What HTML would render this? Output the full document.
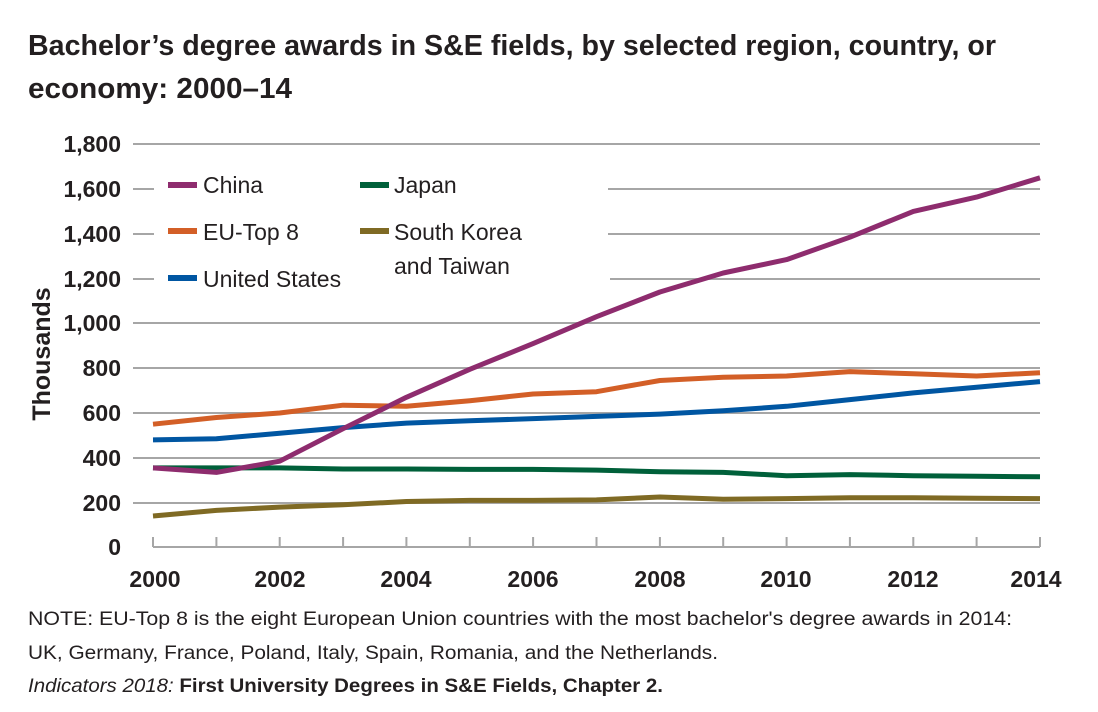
<!DOCTYPE html>
<html><head><meta charset="utf-8"><style>
html,body{margin:0;padding:0;background:#fff;}
svg{display:block;font-family:"Liberation Sans",sans-serif;}
</style></head><body>
<svg width="1098" height="712" viewBox="0 0 1098 712">
<rect width="1098" height="712" fill="#fff"/>
<g font-weight="bold" font-size="29" fill="#231f20">
<text x="28" y="55" textLength="968" lengthAdjust="spacingAndGlyphs">Bachelor’s degree awards in S&amp;E fields, by selected region, country, or</text>
<text x="28" y="98" textLength="264" lengthAdjust="spacingAndGlyphs">economy: 2000–14</text>
</g>
<g stroke="#a6a6a6" stroke-width="2">
<line x1="133" y1="144" x2="1040" y2="144"/>
<line x1="133" y1="189" x2="154" y2="189"/><line x1="608" y1="189" x2="1040" y2="189"/>
<line x1="133" y1="234" x2="154" y2="234"/><line x1="608" y1="234" x2="1040" y2="234"/>
<line x1="133" y1="279" x2="154" y2="279"/><line x1="610" y1="279" x2="1040" y2="279"/>
<line x1="133" y1="323" x2="1040" y2="323"/>
<line x1="133" y1="368" x2="1040" y2="368"/>
<line x1="133" y1="413" x2="1040" y2="413"/>
<line x1="133" y1="458" x2="1040" y2="458"/>
<line x1="133" y1="503" x2="1040" y2="503"/>
<line x1="153" y1="547" x2="1040" y2="547"/>
<path d="M153 537V547M216.4 537V547M279.7 537V547M343.1 537V547M406.4 537V547M469.8 537V547M533.1 537V547M596.5 537V547M659.9 537V547M723.2 537V547M786.6 537V547M849.9 537V547M913.3 537V547M976.6 537V547M1040 537V547"/>
</g>
<g font-size="23" fill="#231f20" text-anchor="end" font-weight="bold">
<text x="121" y="152">1,800</text><text x="121" y="197">1,600</text><text x="121" y="242">1,400</text><text x="121" y="287">1,200</text><text x="121" y="331">1,000</text><text x="121" y="376">800</text><text x="121" y="421">600</text><text x="121" y="466">400</text><text x="121" y="511">200</text><text x="121" y="555">0</text>
</g>
<g font-size="23" fill="#231f20" text-anchor="middle" font-weight="bold">
<text x="155" y="587">2000</text><text x="280" y="587">2002</text><text x="406" y="587">2004</text><text x="533" y="587">2006</text><text x="660" y="587">2008</text><text x="786" y="587">2010</text><text x="913" y="587">2012</text><text x="1036" y="587">2014</text>
</g>
<text transform="translate(50,354) rotate(-90)" font-size="25" font-weight="bold" fill="#231f20" text-anchor="middle">Thousands</text>
<g fill="none" stroke-width="5" stroke-linejoin="round">
<polyline stroke="#7f6a24" points="153,516 216.4,510.4 279.7,507.1 343.1,504.8 406.4,501.5 469.8,500.4 533.1,500.4 596.5,499.9 659.9,497 723.2,499.2 786.6,498.6 849.9,497.7 913.3,497.7 976.6,498.2 1040,498.6"/>
<polyline stroke="#00603a" points="153,467.9 216.4,467.9 279.7,467.9 343.1,469 406.4,469 469.8,469.4 533.1,469.4 596.5,470.1 659.9,471.7 723.2,472.4 786.6,475.7 849.9,474.6 913.3,475.7 976.6,476.2 1040,476.8"/>
<polyline stroke="#0056a2" points="153,439.9 216.4,438.8 279.7,433.2 343.1,427.6 406.4,423.1 469.8,420.8 533.1,418.6 596.5,416.4 659.9,414.1 723.2,410.8 786.6,406.3 849.9,399.6 913.3,392.9 976.6,387.2 1040,381.6"/>
<polyline stroke="#d35f27" points="153,424.2 216.4,417.5 279.7,413 343.1,405.2 406.4,406.3 469.8,400.7 533.1,394 596.5,391.7 659.9,380.5 723.2,377.2 786.6,376 849.9,371.6 913.3,373.8 976.6,376 1040,372.7"/>
<polyline stroke="#8e2c6e" points="153,467.9 216.4,472.4 279.7,461.2 343.1,428.7 406.4,397.3 469.8,369.3 533.1,343.6 596.5,316.7 659.9,292 723.2,273 786.6,259.6 849.9,237.2 913.3,211.4 976.6,197.1 1040,177.8"/>
</g>
<g stroke-width="6">
<line x1="168" y1="185" x2="197" y2="185" stroke="#8e2c6e"/>
<line x1="168" y1="231" x2="197" y2="231" stroke="#d35f27"/>
<line x1="168" y1="278" x2="197" y2="278" stroke="#0056a2"/>
<line x1="360" y1="185" x2="389" y2="185" stroke="#00603a"/>
<line x1="360" y1="231" x2="389" y2="231" stroke="#7f6a24"/>
</g>
<g font-size="23" fill="#231f20">
<text x="203" y="193">China</text>
<text x="203" y="240">EU-Top 8</text>
<text x="203" y="287">United States</text>
<text x="394" y="193">Japan</text>
<text x="394" y="240">South Korea</text>
<text x="394" y="274">and Taiwan</text>
</g>
<g font-size="19" fill="#231f20">
<text x="28" y="625" textLength="984" lengthAdjust="spacingAndGlyphs">NOTE: EU-Top 8 is the eight European Union countries with the most bachelor's degree awards in 2014:</text>
<text x="28" y="659" textLength="690" lengthAdjust="spacingAndGlyphs">UK, Germany, France, Poland, Italy, Spain, Romania, and the Netherlands.</text>
<text x="28" y="692" textLength="635" lengthAdjust="spacingAndGlyphs"><tspan font-style="italic">Indicators 2018:</tspan> <tspan font-weight="bold">First University Degrees in S&amp;E Fields, Chapter 2.</tspan></text>
</g>
</svg>
</body></html>
